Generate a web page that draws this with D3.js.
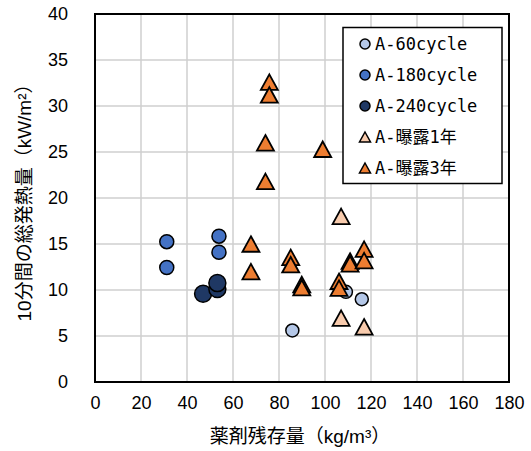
<!DOCTYPE html>
<html>
<head>
<meta charset="utf-8">
<script src="https://cdn.jsdelivr.net/npm/d3@7"></script>
<style>
  html, body { margin: 0; padding: 0; background: #fff; }
  svg { display: block; }
</style>
</head>
<body>
<svg id="chart" width="531" height="451"></svg>
<script>
// Series data: [薬剤残存量 kg/m³, 10分間の総発熱量 kW/m²]
const seriesNames = ["A-60cycle", "A-180cycle", "A-240cycle", "A-曝露1年", "A-曝露3年"];
const a60cycle = [[85.8, 5.6], [109.1, 9.8], [116.0, 9.0]];
const a180cycle = [[31.2, 15.25], [31.2, 12.45], [53.9, 15.85], [53.9, 14.1]];
const a240cycle = [[47.0, 9.6], [53.2, 10.1], [53.2, 10.75]];
const aExposed1 = [[107.0, 18.0], [107.0, 6.95], [117.0, 6.0]];
const aExposed3 = [
  [75.8, 32.6], [75.8, 31.2], [74.1, 26.0], [99.0, 25.3], [74.1, 21.8],
  [67.8, 15.0], [67.8, 12.0], [85.1, 13.55], [85.1, 12.75],
  [89.9, 10.6], [89.9, 10.25], [106.1, 10.95], [106.1, 10.2],
  [110.9, 13.15], [110.9, 12.85], [117.0, 14.45], [117.0, 13.2]
];
const xTicks = [0, 20, 40, 60, 80, 100, 120, 140, 160, 180];
const yTicks = [0, 5, 10, 15, 20, 25, 30, 35, 40];
const xTitle = "薬剤残存量（kg/m³）";
const yTitle = "10分間の総発熱量（kW/m²）";

const styles = [
  { data: a60cycle,  shape: "circle",   fill: "#B4C7E7", r: 6.5 },
  { data: a180cycle, shape: "circle",   fill: "#4472C4", r: 7 },
  { data: a240cycle, shape: "circle",   fill: "#1F3864", r: 8.5 },
  { data: aExposed1, shape: "triangle", fill: "#F8CBAD", w: 17, h: 15.5 },
  { data: aExposed3, shape: "triangle", fill: "#ED7D31", w: 17, h: 15.5 }
];

const svg = d3.select("#chart");
const plot = { left: 95, top: 14, right: 509, bottom: 382 };

const x = d3.scaleLinear().domain([0, 180]).range([plot.left, plot.right]);
const y = d3.scaleLinear().domain([0, 40]).range([plot.bottom, plot.top]);

const tickFont = "'Liberation Sans', Arial, sans-serif";
const cjkFont = "'Liberation Sans', 'Noto Sans CJK JP', sans-serif";

// gridlines
const grid = svg.append("g");
grid.selectAll("line.gx").data(xTicks).join("line")
  .attr("x1", d => x(d)).attr("x2", d => x(d))
  .attr("y1", plot.top).attr("y2", plot.bottom)
  .attr("stroke", "#CFCFCF").attr("stroke-width", 1.5);
grid.selectAll("line.gy").data(yTicks).join("line")
  .attr("x1", plot.left).attr("x2", plot.right)
  .attr("y1", d => y(d)).attr("y2", d => y(d))
  .attr("stroke", "#CFCFCF").attr("stroke-width", 1.5);

// plot frame
svg.append("rect")
  .attr("x", plot.left).attr("y", plot.top)
  .attr("width", plot.right - plot.left).attr("height", plot.bottom - plot.top)
  .attr("fill", "none").attr("stroke", "#000").attr("stroke-width", 2);

// axes (labels only; frame and grid drawn above)
const xAxis = svg.append("g")
  .attr("transform", `translate(0,${plot.bottom})`)
  .call(d3.axisBottom(x).tickValues(xTicks).tickSize(0).tickPadding(14));
const yAxis = svg.append("g")
  .attr("transform", `translate(${plot.left},0)`)
  .call(d3.axisLeft(y).tickValues(yTicks).tickSize(0).tickPadding(27));
[xAxis, yAxis].forEach(g => {
  g.select(".domain").remove();
  g.selectAll("text")
    .attr("font-family", tickFont).attr("font-size", 18).attr("fill", "#000");
});

// axis titles
svg.append("text")
  .attr("x", 300).attr("y", 443)
  .attr("text-anchor", "middle")
  .attr("font-family", cjkFont).attr("font-size", 19).attr("fill", "#000")
  .text(xTitle);
svg.append("text")
  .attr("transform", "translate(31,198) rotate(-90)")
  .attr("text-anchor", "middle")
  .attr("font-family", cjkFont).attr("font-size", 19).attr("fill", "#000")
  .text(yTitle);

function triPath(cx, cy, w, h) {
  return `M${cx},${cy - h / 2}L${cx + w / 2},${cy + h / 2}L${cx - w / 2},${cy + h / 2}Z`;
}

// markers
const marks = svg.append("g");
styles.forEach(s => {
  const g = marks.append("g");
  if (s.shape === "circle") {
    g.selectAll("circle").data(s.data).join("circle")
      .attr("cx", d => x(d[0])).attr("cy", d => y(d[1])).attr("r", s.r)
      .attr("fill", s.fill).attr("stroke", "#000").attr("stroke-width", 1.5);
  } else {
    g.selectAll("path").data(s.data).join("path")
      .attr("d", d => triPath(x(d[0]), y(d[1]), s.w, s.h))
      .attr("fill", s.fill).attr("stroke", "#000").attr("stroke-width", 1.8)
      .attr("stroke-linejoin", "miter");
  }
});

// legend
const legend = svg.append("g");
legend.append("rect")
  .attr("x", 343).attr("y", 27.5).attr("width", 159).attr("height", 156)
  .attr("fill", "#fff").attr("stroke", "#000").attr("stroke-width", 1.5);
seriesNames.forEach((name, i) => {
  const s = styles[i];
  const cy = 44 + i * 31;
  if (s.shape === "circle") {
    legend.append("circle").attr("cx", 365).attr("cy", cy).attr("r", 5)
      .attr("fill", s.fill).attr("stroke", "#000").attr("stroke-width", 1.5);
  } else {
    legend.append("path").attr("d", triPath(365, cy, 11, 10))
      .attr("fill", s.fill).attr("stroke", "#000").attr("stroke-width", 1.5);
  }
  legend.append("text")
    .attr("x", 375).attr("y", cy + 6)
    .attr("font-family", "'DejaVu Sans Mono', 'Noto Sans CJK JP', monospace")
    .attr("font-size", 17).attr("fill", "#000")
    .text(name);
});
</script>
</body>
</html>
